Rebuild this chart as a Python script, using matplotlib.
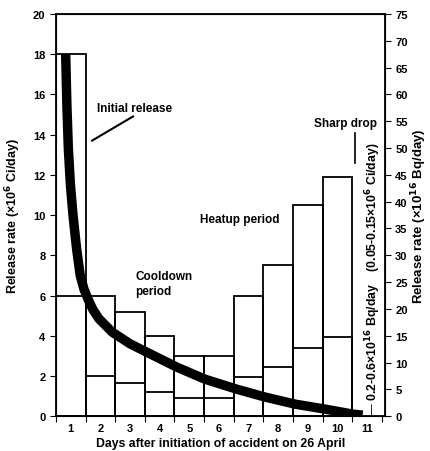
import matplotlib
matplotlib.use("Agg")
import matplotlib.pyplot as plt

plt.rcParams['font.family'] = ['Liberation Sans', 'DejaVu Sans']
plt.rcParams['font.weight'] = 'bold'
plt.rcParams['axes.labelweight'] = 'bold'
plt.rcParams['mathtext.default'] = 'bf'

# data (10^6 Ci/day)
days = [1, 2, 3, 4, 5, 6, 7, 8, 9, 10]
upper = [18, 6, 5.2, 4.0, 3.0, 3.0, 6.0, 7.5, 10.5, 11.9]
lower = [6, 2.0, 1.65, 1.2, 0.9, 0.9, 1.95, 2.45, 3.4, 3.95]
curve_x = [0.33, 0.37, 0.42, 0.49, 0.58, 0.70, 0.82, 0.95, 1.09, 1.25, 1.45,
           1.9, 2.5, 3.07, 4.08, 5.03, 6.11, 7.06, 8.07, 9.09, 10.03, 10.35]
curve_y = [18, 15.5, 13.3, 11.5, 9.95, 8.3, 7.0, 6.3, 5.8, 5.3, 4.85,
           4.18, 3.6, 3.18, 2.44, 1.84, 1.34, 0.95, 0.6, 0.35, 0.1, 0.05]
day_labels = ['1', '2', '3', '4', '5', '6', '7', '8', '9', '10', '11']

fig = plt.figure(figsize=(4.3, 4.52), dpi=100)
ax = fig.add_axes([0.130, 0.077, 0.765, 0.89])

left_edges = [d - 1 for d in days]
ax.bar(left_edges, upper, width=1, align='edge', fill=False, edgecolor='k', lw=1.3)
ax.bar(left_edges, lower, width=1, align='edge', fill=False, edgecolor='k', lw=1.3)
ax.plot(curve_x, curve_y, color='k', lw=6.8, solid_capstyle='butt', solid_joinstyle='round')

ax.set_xlim(0, 11.1)
ax.set_ylim(0, 20)
ax.set_xticks(range(0, 12))
ax.set_xticklabels([])
ax.set_xticks([i + 0.5 for i in range(11)], minor=True)
ax.set_xticklabels(day_labels, minor=True, fontsize=8)
ax.tick_params(axis='x', which='minor', length=0, pad=5)
ax.tick_params(axis='x', which='major', length=4, direction='out')
ax.set_yticks(range(0, 21, 2))
ax.tick_params(axis='y', labelsize=8, length=4)
for s in ax.spines.values():
    s.set_linewidth(1.3)

ax2 = ax.twinx()
ax2.set_ylim(0, 75)
ax2.set_yticks(range(0, 76, 5))
ax2.tick_params(axis='y', labelsize=8, length=4)

ax.set_ylabel('Release rate (×10$^6$ Ci/day)', fontsize=9, labelpad=7)
ax2.set_ylabel('Release rate (×10$^{16}$ Bq/day)', fontsize=9.5, labelpad=1)
ax.set_xlabel('Days after initiation of accident on 26 April', fontsize=8.8, labelpad=3)

ax.text(1.4, 15.3, 'Initial release', fontsize=8.5, va='center')
ax.plot([2.6, 1.22], [14.9, 13.7], color='k', lw=1.5)
ax.text(4.86, 9.8, 'Heatup period', fontsize=8.5, va='center')
ax.text(2.67, 6.6, 'Cooldown\nperiod', fontsize=8.5, va='center', linespacing=1.3)
ax.text(9.76, 14.6, 'Sharp drop', fontsize=8.5, ha='center', va='center')
ax.plot([10.1, 10.1], [12.6, 14.1], color='k', lw=1.2)
ax.text(10.72, 0.05, '— 0.2-0.6×10$^{16}$ Bq/day    (0.05-0.15×10$^6$ Ci/day)',
        fontsize=8.8, rotation=90, ha='center', va='bottom')

fig.savefig('out.png', dpi=100)
